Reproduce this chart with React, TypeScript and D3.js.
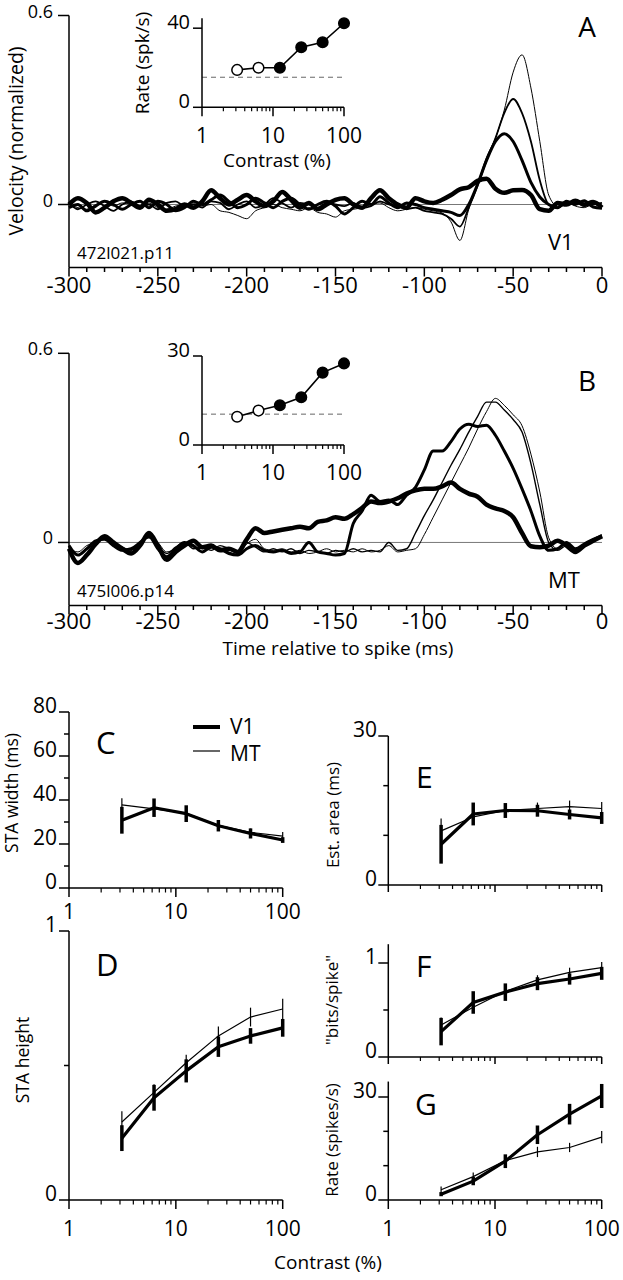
import React from "react";
import * as d3 from "d3";

const FONT = "'Open Sans', 'Noto Sans', 'DejaVu Sans', sans-serif";

// ---------- Panel A / B : spike-triggered velocity traces ----------
const timeMs = d3.range(-300, 1, 5);

// V1 cell (A): four contrasts, thin = 100% ... thickest = lowest
const aTrace100 = [
  0.0, -0.01, -0.015, 0.0, 0.01, -0.005, 0.005, 0.0, -0.01, 0.005,
  -0.01, -0.015, -0.005, 0.0, 0.005, -0.005, 0.0, -0.02, -0.025, -0.035,
  -0.045, -0.02, -0.01, 0.0, -0.01, -0.015, -0.02, -0.01, -0.025, -0.03,
  -0.04, -0.02, -0.015, -0.01, 0.0, 0.005, -0.01, -0.02, -0.015, -0.01,
  -0.015, -0.02, -0.027, -0.055, -0.114, -0.015, 0.065, 0.15, 0.21, 0.3,
  0.42, 0.475, 0.37, 0.2, 0.03, -0.005, 0.008, -0.005, -0.01, 0.002,
  -0.008,
];
const aTrace50 = [
  0.005, -0.015, 0.0, 0.01, -0.005, -0.02, 0.0, 0.01, -0.005, 0.0,
  -0.015, 0.005, 0.01, -0.005, 0.0, -0.01, 0.01, 0.005, -0.015, 0.0,
  0.01, -0.01, 0.0, 0.02, 0.005, -0.01, 0.005, 0.0, -0.01, 0.005,
  0.0, -0.005, 0.005, -0.01, -0.005, 0.01, 0.0, -0.005, -0.015, -0.01,
  -0.02, -0.025, -0.03, -0.045, -0.07, -0.01, 0.06, 0.14, 0.21, 0.29,
  0.335, 0.29, 0.2, 0.077, 0.0, -0.01, 0.005, 0.01, -0.005, 0.0,
  0.005,
];
const aTrace25 = [
  -0.01, 0.0, -0.02, -0.005, 0.01, 0.0, -0.015, 0.0, 0.01, -0.01,
  0.01, 0.0, -0.02, -0.01, 0.01, 0.0, 0.015, 0.03, 0.01, -0.01,
  0.0, 0.02, 0.005, -0.01, 0.01, 0.02, 0.0, -0.015, 0.0, 0.01,
  -0.005, -0.03, -0.01, 0.01, 0.0, 0.025, 0.005, -0.01, 0.005, 0.0,
  -0.01, -0.015, -0.02, -0.025, -0.035, 0.0, 0.065, 0.14, 0.2, 0.225,
  0.2, 0.14, 0.07, 0.024, 0.0, -0.01, 0.01, 0.0, 0.012, -0.008,
  -0.012,
];
const aTrace12 = [
  0.0, 0.02, 0.005, -0.025, -0.01, 0.01, 0.02, 0.005, -0.01, 0.015,
  0.0, -0.02, -0.015, 0.0, -0.01, 0.01, 0.045, 0.02, 0.0, 0.015,
  0.03, 0.01, -0.005, 0.01, 0.04, 0.015, -0.01, 0.005, -0.015, 0.0,
  0.015, 0.02, 0.0, -0.01, 0.02, 0.045, 0.02, 0.0, -0.01, 0.02,
  0.01, 0.005, 0.015, 0.03, 0.048, 0.055, 0.075, 0.082, 0.05, 0.037,
  0.045, 0.046, 0.03, -0.015, -0.02, 0.005, 0.0, 0.012, 0.0, 0.008,
  -0.01,
];

// MT cell (B)
const bTrace100 = [
  -0.02, -0.03, -0.01, 0.0, 0.01, -0.01, -0.02, -0.03, -0.01, 0.02,
  0.0, -0.03, -0.02, -0.005, -0.015, -0.02, -0.01, -0.02, -0.03, -0.04,
  -0.005, 0.01, -0.02, -0.025, -0.02, -0.03, -0.025, -0.035, -0.03, -0.02,
  -0.03, -0.025, -0.03, -0.02, -0.03, -0.025, -0.01, -0.03, -0.025, -0.02,
  0.025, 0.08, 0.135, 0.19, 0.245, 0.3, 0.36, 0.415, 0.457, 0.435,
  0.405, 0.37, 0.28, 0.16, 0.015, -0.02, -0.005, -0.03, -0.005, 0.01,
  0.025,
];
const bTrace50 = [
  -0.01, -0.04, -0.02, 0.005, 0.015, 0.0, -0.015, -0.025, 0.0, 0.015,
  -0.01, -0.035, -0.015, 0.0, -0.02, -0.015, -0.025, -0.01, -0.02, -0.03,
  0.0, -0.015, -0.03, -0.02, -0.03, -0.02, -0.035, -0.025, -0.03, -0.035,
  -0.025, -0.03, -0.02, -0.03, -0.025, -0.03, 0.0, -0.025, -0.02, 0.03,
  0.085, 0.135, 0.19, 0.245, 0.295, 0.35, 0.4, 0.445, 0.445, 0.42,
  0.39, 0.35, 0.25, 0.12, 0.0, -0.025, -0.01, -0.02, -0.01, 0.005,
  0.02,
];
const bTrace25 = [
  -0.01, -0.04, -0.02, 0.005, 0.01, -0.01, -0.025, -0.02, 0.0, 0.02,
  -0.02, -0.045, -0.02, 0.0, -0.01, -0.03, -0.015, -0.02, -0.035, -0.04,
  -0.02, -0.01, -0.025, -0.03, -0.025, -0.035, -0.03, 0.0, -0.03, -0.035,
  -0.04, -0.035, 0.06, 0.1, 0.15, 0.13, 0.135, 0.12, 0.15, 0.175,
  0.23, 0.29, 0.29, 0.32, 0.36, 0.375, 0.368, 0.372, 0.34, 0.29,
  0.235, 0.17, 0.1, 0.02, -0.025, -0.02, 0.0, -0.02, -0.005, 0.01,
  0.02,
];
const bTrace12 = [
  -0.02, -0.065, -0.04, -0.005, 0.02, 0.0, -0.02, -0.035, -0.01, 0.03,
  -0.01, -0.055, -0.03, -0.01, 0.005, -0.015, -0.01, -0.025, -0.02, -0.03,
  0.01, 0.045, 0.03, 0.035, 0.04, 0.045, 0.05, 0.045, 0.065, 0.07,
  0.08, 0.075, 0.09, 0.11, 0.13, 0.125, 0.13, 0.14, 0.155, 0.165,
  0.17, 0.17, 0.178, 0.19, 0.17, 0.155, 0.145, 0.12, 0.108, 0.1,
  0.08, 0.03, -0.012, -0.015, -0.01, 0.005, -0.01, -0.03, -0.01, 0.005,
  0.02,
];

const timeTicks = [-300, -250, -200, -150, -100, -50, 0];
const timeMinorTicks = d3.range(-300, 1, 10);

// ---------- Insets: firing rate vs contrast ----------
const contrastLevels = [3.125, 6.25, 12.5, 25, 50, 100];
const insetOpen = [true, true, false, false, false, false];
const insetRateA = [18.9, 20, 20, 30.4, 32.9, 42.5];
const insetSpontA = 15.2;
const insetRateB = [9.5, 11.6, 13.4, 16.1, 24.4, 27.5];
const insetSpontB = 10.4;

// ---------- Population panels C-G ----------
const staWidthV1 = [30.8, 36.5, 33.8, 28.3, 24.8, 21.8];
const staWidthV1Err = [6.1, 4.2, 3.8, 2.6, 2.3, 1.3];
const staWidthMT = [37.8, 36, 34, 28.5, 25.3, 23.6];
const staWidthMTErr = [3, 2.5, 2.5, 2, 1.7, 1.8];

const staHeightV1 = [0.23, 0.38, 0.48, 0.57, 0.61, 0.64];
const staHeightV1Err = [0.048, 0.048, 0.043, 0.038, 0.029, 0.033];
const staHeightMT = [0.29, 0.4, 0.51, 0.61, 0.68, 0.71];
const staHeightMTErr = [0.04, 0.03, 0.03, 0.035, 0.035, 0.038];

const areaV1 = [8.2, 14.3, 15.0, 14.95, 14.2, 13.5];
const areaV1Err = [3.9, 2.3, 1.5, 1.2, 1.0, 1.2];
const areaMT = [10.9, 13.7, 15.0, 15.4, 15.8, 15.4];
const areaMTErr = [2.5, 1.5, 1.2, 1.2, 1.2, 1.3];

const bitsV1 = [0.27, 0.58, 0.69, 0.78, 0.83, 0.89];
const bitsV1Err = [0.146, 0.12, 0.093, 0.069, 0.06, 0.069];
const bitsMT = [0.34, 0.53, 0.7, 0.82, 0.9, 0.95];
const bitsMTErr = [0.08, 0.06, 0.05, 0.05, 0.05, 0.06];

const rateV1 = [1.7, 5.5, 11.3, 19, 25, 30.3];
const rateV1Err = [0.6, 1.2, 2.0, 2.7, 3.0, 3.5];
const rateMT = [3, 6.8, 11.5, 14, 15.3, 18.3];
const rateMTErr = [0.9, 1.2, 1.5, 1.5, 1.35, 1.8];

const logMajor = [1, 10, 100];
const logMinor = [2, 3, 4, 5, 6, 7, 8, 9, 20, 30, 40, 50, 60, 70, 80, 90];

type Lin = d3.ScaleLinear<number, number>;
type Log = d3.ScaleLogarithmic<number, number>;

const AX = { stroke: "#000", strokeWidth: 1.5 };

function LogXAxis({ x, y0, labels, labelBaseline, majorLen = 9, minorLen = 4.5, fs = 21 }: {
  x: Log; y0: number; labels: boolean; labelBaseline?: number; majorLen?: number; minorLen?: number; fs?: number;
}) {
  const [r0, r1] = x.range();
  return (
    <g>
      <line x1={r0} x2={r1} y1={y0} y2={y0} {...AX} />
      {logMajor.map((v) => (
        <line key={"M" + v} x1={x(v)} x2={x(v)} y1={y0} y2={y0 + majorLen} {...AX} />
      ))}
      {logMinor.map((v) => (
        <line key={"m" + v} x1={x(v)} x2={x(v)} y1={y0} y2={y0 + minorLen} stroke="#000" strokeWidth={1.2} />
      ))}
      {labels &&
        logMajor.map((v) => (
          <text key={"l" + v} x={x(v)} y={labelBaseline} textAnchor="middle" fontSize={fs}>
            {String(v)}
          </text>
        ))}
    </g>
  );
}

function YAxis({ y, x0, top, majors, minors, labelEnd, fs = 21, majorLen = 10, minorLen = 5 }: {
  y: Lin; x0: number; top: number; majors: number[]; minors: number[]; labelEnd: number; fs?: number; majorLen?: number; minorLen?: number;
}) {
  return (
    <g>
      <line x1={x0} x2={x0} y1={y(0)} y2={y(top)} {...AX} />
      {majors.map((v) => (
        <g key={"M" + v}>
          <line x1={x0 - majorLen} x2={x0} y1={y(v)} y2={y(v)} {...AX} />
          <text x={labelEnd} y={y(v) + 1} textAnchor="end" fontSize={fs}>
            {String(v)}
          </text>
        </g>
      ))}
      {minors.map((v) => (
        <line key={"m" + v} x1={x0 - minorLen} x2={x0} y1={y(v)} y2={y(v)} {...AX} />
      ))}
    </g>
  );
}

function Series({ x, y, values, errs, lw, bw }: { x: Log; y: Lin; values: number[]; errs: number[]; lw: number; bw: number }) {
  const line = d3
    .line<number>()
    .x((_, i) => x(contrastLevels[i]))
    .y((v) => y(v));
  return (
    <g>
      <path d={line(values) || ""} fill="none" stroke="#000" strokeWidth={lw} strokeLinejoin="round" />
      {values.map((v, i) => (
        <line
          key={i}
          x1={x(contrastLevels[i])}
          x2={x(contrastLevels[i])}
          y1={y(v - errs[i])}
          y2={y(v + errs[i])}
          stroke="#000"
          strokeWidth={bw}
        />
      ))}
    </g>
  );
}

const mainX = d3.scaleLinear().domain([-300, 0]).range([69, 602]);

function TracePanel({ y, traces, widths, letter, letterBaseline, area, areaBaseline, cell, cellBaseline, labelBaseline }: {
  y: Lin; traces: number[][]; widths: number[]; letter: string; letterBaseline: number; area: string; areaBaseline: number; cell: string; cellBaseline: number; labelBaseline: number;
}) {
  const y0 = y(-0.2);
  return (
    <g>
      <line x1={mainX(-300)} x2={mainX(0)} y1={y(0)} y2={y(0)} stroke="#777" strokeWidth={1} />
      {traces.map((tr, k) => {
        const line = d3
          .line<number>()
          .x((_, i) => mainX(timeMs[i]))
          .y((v) => y(v))
          .curve(d3.curveMonotoneX);
        return (
          <path key={k} d={line(tr) || ""} fill="none" stroke="#000" strokeWidth={widths[k]} strokeLinejoin="round" />
        );
      })}
      {/* y axis */}
      <line x1={69} x2={69} y1={y(-0.2)} y2={y(0.6)} {...AX} />
      {[0, 0.6].map((v) => (
        <g key={v}>
          <line x1={58} x2={69} y1={y(v)} y2={y(v)} {...AX} />
          <text x={53} y={y(v) + 2} textAnchor="end" fontSize={18}>
            {String(v)}
          </text>
        </g>
      ))}
      {/* x axis */}
      <line x1={mainX(-300)} x2={mainX(0)} y1={y0} y2={y0} {...AX} />
      {timeMinorTicks.map((t) => (
        <line key={t} x1={mainX(t)} x2={mainX(t)} y1={y0} y2={y0 + (t % 50 === 0 ? 9 : 4.5)} {...AX} />
      ))}
      {timeTicks.map((t) => (
        <text key={t} x={mainX(t)} y={labelBaseline} textAnchor="middle" fontSize={22}>
          {String(t)}
        </text>
      ))}
      <text x={587} y={letterBaseline} textAnchor="middle" fontSize={28}>
        {letter}
      </text>
      <text x={548} y={areaBaseline} fontSize={22}>
        {area}
      </text>
      <text x={77} y={cellBaseline} fontSize={17}>
        {cell}
      </text>
    </g>
  );
}

const insetX = d3.scaleLog().domain([1, 100]).range([202, 344]);

function Inset({ y, top, yTicks, rates, spont, labelBaseline, withTitles }: {
  y: Lin; top: number; yTicks: number[]; rates: number[]; spont: number; labelBaseline: number; withTitles: boolean;
}) {
  const line = d3
    .line<number>()
    .x((_, i) => insetX(contrastLevels[i]))
    .y((v) => y(v));
  return (
    <g>
      <line x1={202} x2={344} y1={y(spont)} y2={y(spont)} stroke="#666" strokeWidth={1} strokeDasharray="5,4" />
      <line x1={202} x2={202} y1={y(0)} y2={y(top)} {...AX} />
      {yTicks.map((v) => (
        <g key={v}>
          <line x1={193} x2={202} y1={y(v)} y2={y(v)} {...AX} />
          <text x={190} y={y(v) + 1} textAnchor="end" fontSize={20}>
            {String(v)}
          </text>
        </g>
      ))}
      <LogXAxis x={insetX} y0={y(0)} labels={true} labelBaseline={labelBaseline} majorLen={9} minorLen={4} fs={21} />
      <path d={line(rates) || ""} fill="none" stroke="#000" strokeWidth={1.6} />
      {rates.map((r, i) => (
        <circle
          key={i}
          cx={insetX(contrastLevels[i])}
          cy={y(r)}
          r={5.3}
          fill={insetOpen[i] ? "#fff" : "#000"}
          stroke="#000"
          strokeWidth={1.5}
        />
      ))}
      {withTitles && (
        <g>
          <text x={277} y={167} textAnchor="middle" fontSize={19}>
            Contrast (%)
          </text>
          <text transform={`translate(149,63) rotate(-90)`} textAnchor="middle" fontSize={19}>
            Rate (spk/s)
          </text>
        </g>
      )}
    </g>
  );
}

export default function App() {
  const yA = d3.scaleLinear().domain([-0.2, 0.6]).range([267.5, 15.5]);
  const yB = d3.scaleLinear().domain([-0.2, 0.6]).range([605.5, 353.3]);
  const insetAy = d3.scaleLinear().domain([0, 45]).range([107.3, 18.3]);
  const insetBy = d3.scaleLinear().domain([0, 30]).range([445, 356]);

  const xLeft = d3.scaleLog().domain([1, 100]).range([69, 282.7]);
  const xRight = d3.scaleLog().domain([1, 100]).range([388.3, 601.7]);
  const yC = d3.scaleLinear().domain([0, 80]).range([888, 712]);
  const yD = d3.scaleLinear().domain([0, 1]).range([1200, 931]);
  const yE = d3.scaleLinear().domain([0, 30]).range([885, 736]);
  const yF = d3.scaleLinear().domain([0, 1]).range([1057, 963]);
  const yG = d3.scaleLinear().domain([0, 30]).range([1200, 1097]);

  return (
    <svg
      width={623}
      height={1280}
      style={{ position: "absolute", left: 0, top: 0, background: "#fff" }}
      fontFamily={FONT}
      fill="#000"
    >
      <rect x={0} y={0} width={623} height={1280} fill="#fff" />
      {/* Panel A */}
      <TracePanel
        y={yA}
        traces={[aTrace12, aTrace25, aTrace50, aTrace100]}
        widths={[4.5, 3, 1.8, 1]}
        letter="A"
        letterBaseline={37}
        area="V1"
        areaBaseline={250}
        cell="472l021.p11"
        cellBaseline={259}
        labelBaseline={293}
      />
      <text transform="translate(23,141) rotate(-90)" textAnchor="middle" fontSize={19.5}>
        Velocity (normalized)
      </text>
      <Inset y={insetAy} top={45} yTicks={[0, 40]} rates={insetRateA} spont={insetSpontA} labelBaseline={143} withTitles={true} />

      {/* Panel B */}
      <TracePanel
        y={yB}
        traces={[bTrace12, bTrace25, bTrace50, bTrace100]}
        widths={[4.5, 3, 1.4, 1]}
        letter="B"
        letterBaseline={391}
        area="MT"
        areaBaseline={588}
        cell="475l006.p14"
        cellBaseline={597}
        labelBaseline={629}
      />
      <Inset y={insetBy} top={30} yTicks={[0, 30]} rates={insetRateB} spont={insetSpontB} labelBaseline={480} withTitles={false} />
      <text x={338} y={655} textAnchor="middle" fontSize={19}>
        Time relative to spike (ms)
      </text>

      {/* Panel C */}
      <YAxis y={yC} x0={69} top={80} majors={[0, 20, 40, 60, 80]} minors={[10, 30, 50, 70]} labelEnd={57} />
      <LogXAxis x={xLeft} y0={yC(0)} labels={true} labelBaseline={919} />
      <Series x={xLeft} y={yC} values={staWidthMT} errs={staWidthMTErr} lw={1.2} bw={1.2} />
      <Series x={xLeft} y={yC} values={staWidthV1} errs={staWidthV1Err} lw={3.2} bw={3.5} />
      <text x={96} y={754} fontSize={31}>C</text>
      <line x1={193} x2={220} y1={727} y2={727} stroke="#000" strokeWidth={4} />
      <text x={230} y={733.5} fontSize={21}>V1</text>
      <line x1={193} x2={220} y1={751} y2={751} stroke="#000" strokeWidth={1.2} />
      <text x={230} y={761} fontSize={21}>MT</text>
      <text transform="translate(18,793) rotate(-90)" textAnchor="middle" fontSize={17.5}>
        STA width (ms)
      </text>

      {/* Panel D */}
      <YAxis y={yD} x0={69} top={1} majors={[0, 1]} minors={[0.5]} labelEnd={57} />
      <LogXAxis x={xLeft} y0={yD(0)} labels={true} labelBaseline={1236} />
      <Series x={xLeft} y={yD} values={staHeightMT} errs={staHeightMTErr} lw={1.2} bw={1.2} />
      <Series x={xLeft} y={yD} values={staHeightV1} errs={staHeightV1Err} lw={3.2} bw={3.5} />
      <text x={96} y={976} fontSize={31}>D</text>
      <text transform="translate(29,1060) rotate(-90)" textAnchor="middle" fontSize={17.5}>
        STA height
      </text>

      {/* Panel E */}
      <YAxis y={yE} x0={388.3} top={30} majors={[0, 30]} minors={[10, 20]} labelEnd={377} />
      <LogXAxis x={xRight} y0={yE(0)} labels={false} majorLen={7} minorLen={4} />
      <Series x={xRight} y={yE} values={areaMT} errs={areaMTErr} lw={1.2} bw={1.2} />
      <Series x={xRight} y={yE} values={areaV1} errs={areaV1Err} lw={3.2} bw={3.5} />
      <text x={416} y={788} fontSize={30}>E</text>
      <text transform="translate(339,815) rotate(-90)" textAnchor="middle" fontSize={17}>
        Est. area (ms)
      </text>

      {/* Panel F */}
      <YAxis y={yF} x0={388.3} top={1.2} majors={[0, 1]} minors={[0.5]} labelEnd={377} />
      <LogXAxis x={xRight} y0={yF(0)} labels={false} majorLen={7} minorLen={4} />
      <Series x={xRight} y={yF} values={bitsMT} errs={bitsMTErr} lw={1.2} bw={1.2} />
      <Series x={xRight} y={yF} values={bitsV1} errs={bitsV1Err} lw={3.2} bw={3.5} />
      <text x={416} y={977} fontSize={30}>F</text>
      <text transform="translate(338,1000) rotate(-90)" textAnchor="middle" fontSize={17}>
        "bits/spike"
      </text>

      {/* Panel G */}
      <YAxis y={yG} x0={388.3} top={34.5} majors={[0, 30]} minors={[10, 20]} labelEnd={377} />
      <LogXAxis x={xRight} y0={yG(0)} labels={true} labelBaseline={1236} />
      <Series x={xRight} y={yG} values={rateMT} errs={rateMTErr} lw={1.2} bw={1.2} />
      <Series x={xRight} y={yG} values={rateV1} errs={rateV1Err} lw={3.2} bw={3.5} />
      <text x={415} y={1115} fontSize={30}>G</text>
      <text transform="translate(338,1140) rotate(-90)" textAnchor="middle" fontSize={17}>
        Rate (spikes/s)
      </text>

      <text x={328} y={1269} textAnchor="middle" fontSize={19}>
        Contrast (%)
      </text>
    </svg>
  );
}
